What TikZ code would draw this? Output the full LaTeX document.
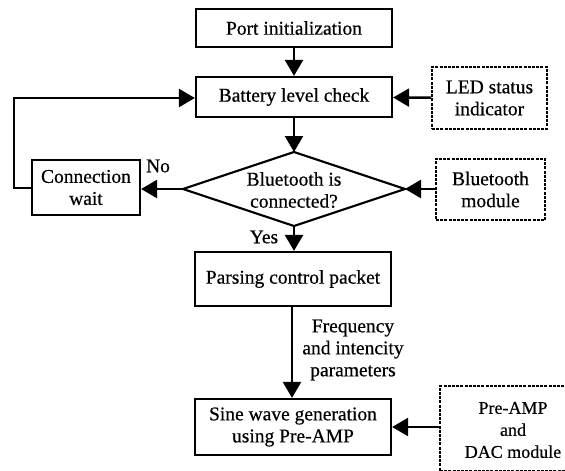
\documentclass[tikz,border=0pt]{standalone}
\usepackage{fontspec}
\setmainfont{Liberation Serif}[FakeBold=0.5]
\usetikzlibrary{arrows.meta}
\begin{document}
\begin{tikzpicture}[x=1pt,y=-1pt,
  every node/.style={font=\fontsize{19.5}{22}\selectfont, align=center, inner sep=0pt},
  box/.style={draw, line width=2.2pt, minimum width=196pt},
  dbox/.style={draw, line width=2pt, dash pattern=on 3pt off 1.2pt},
  conn/.style={line width=2.4pt, -{Triangle[length=16pt,width=18pt]}},
  plain/.style={line width=2.4pt}]
\useasboundingbox (0,0) rectangle (565,471);
% boxes
\node[box, minimum height=38pt] (port) at (294,28) {Port initialization};
\node[box, minimum height=40pt] (bat) at (294,97) {Battery level check};
\node[dbox, minimum width=115pt, minimum height=62pt] (led) at (489.5,98) {LED status\\indicator};
\node (dia) at (294,190) {Bluetooth is\\connected?};
\coordinate (dT) at (294,152);
\coordinate (dB) at (294,226);
\coordinate (dL) at (183,189);
\coordinate (dR) at (405,189);
\draw[line width=2.2pt, line join=miter] (dT) -- (dR) -- (dB) -- (dL) -- cycle;
\node[box, minimum width=108pt, minimum height=55pt] (cw) at (86,187.5) {Connection\\wait};
\node[dbox, minimum width=109pt, minimum height=61pt] (btm) at (490.5,189.5) {Bluetooth\\module};
\node[box, minimum height=54pt] (parse) at (293,279) {Parsing control packet};
\node[box, minimum height=56pt] (sine) at (293,427) {Sine wave generation\\using Pre-AMP};
\node[dbox, minimum width=154pt, minimum height=85pt] (dac) at (517,428.5) {};
\node[font=\fontsize{18}{22}\selectfont] (dactext) at (513,430) {Pre-AMP\\and\\DAC module};
% labels
\node (no) at (158,166) {No};
\node (yes) at (264,237) {Yes};
\node (freq) at (353,350) {Frequency\\and intencity\\parameters};
% connectors
\draw[conn] (port) -- (bat);
\draw[conn] (led) -- (bat);
\draw[conn] (bat.south) -- (dT);
\draw[conn] (btm.west |- dR) -- (dR);
\draw[conn] (dL) -- (cw.east |- dL);
\draw[conn] (dB) -- (dB |- parse.north);
\draw[conn] (parse.south -| 292,0) -- (sine.north -| 292,0);
\draw[conn] (dac.west |- sine.east) -- (sine.east);
\coordinate (lp1) at (14,188);
\coordinate (lp2) at (14,98);
\draw[conn, line join=miter] (cw.west |- lp1) -- (lp1) -- (lp2) -- (bat.west |- lp2);
\end{tikzpicture}
\end{document}
